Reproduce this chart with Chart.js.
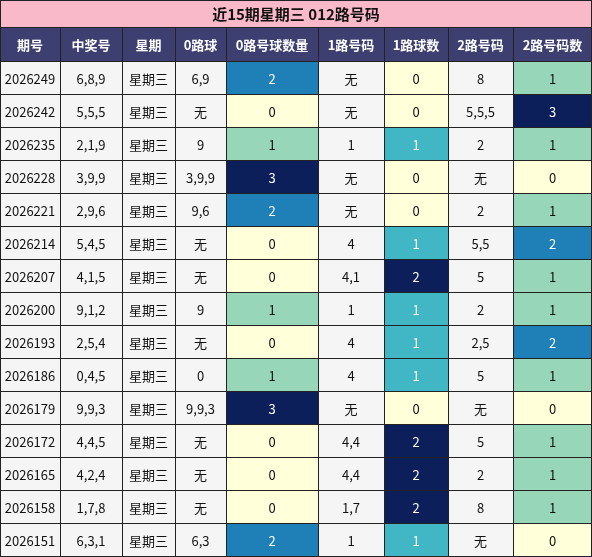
<!DOCTYPE html><html><head><meta charset="utf-8">
<script src="https://cdn.jsdelivr.net/npm/chart.js@4"></script>
<style>body{margin:0}#w{width:592px;height:557px}</style></head><body><div id="w"><canvas id="c"></canvas></div>
<script>
const title="近15期星期三 012路号码";
const headers=["期号","中奖号","星期","0路球","0路号球数量","1路号码","1路球数","2路号码","2路号码数"];
const issues=["2026249","2026242","2026235","2026228","2026221","2026214","2026207","2026200","2026193","2026186","2026179","2026172","2026165","2026158","2026151"];
const nums=["6,8,9","5,5,5","2,1,9","3,9,9","2,9,6","5,4,5","4,1,5","9,1,2","2,5,4","0,4,5","9,9,3","4,4,5","4,2,4","1,7,8","6,3,1"];
const week=Array(15).fill("星期三");
const r0=["6,9","无","9","3,9,9","9,6","无","无","9","无","0","9,9,3","无","无","无","6,3"];
const c0=[2,0,1,3,2,0,0,1,0,1,3,0,0,0,2];
const r1=["无","无","1","无","无","4","4,1","1","4","4","无","4,4","4,4","1,7","1"];
const c1=[0,0,1,0,0,1,2,1,1,1,0,2,2,2,1];
const r2=["8","5,5,5","2","无","2","5,5","5","2","2,5","5","无","5","2","8","无"];
const c2=[1,3,1,0,1,2,1,1,2,1,0,1,1,1,0];
const colEdges=[0,60,122,175,226,318,384,448,513,592];
const rowEdges=[0,27,62];for(let i=1;i<=15;i++)rowEdges.push(62+33*i);
const cols=[issues,nums,week,r0,c0,r1,c1,r2,c2];
const col4=["#ffffd9","#97d6b9","#1f80b8","#0c1f5b"];
const col3=["#ffffd9","#41b6c4","#0c1f5b"];
function cellColor(ci,v){if(ci===4||ci===8)return col4[v];if(ci===6)return col3[v];return "#f5f5f5";}
const plug={id:"tbl",afterDraw(ch){const x=ch.scales.x,y=ch.scales.y,g=ch.ctx;g.save();
const X=v=>x.getPixelForValue(v),Y=v=>y.getPixelForValue(v);
g.fillStyle="#f9b9c9";g.fillRect(X(0),Y(0),X(592)-X(0),Y(27)-Y(0));
g.fillStyle="#111";g.font="bold 15px 'Noto Sans CJK SC',sans-serif";g.textAlign="center";g.textBaseline="middle";
g.fillText(title,X(296),Y(14));
g.fillStyle="#3c3f6f";g.fillRect(X(0),Y(27),X(592)-X(0),Y(62)-Y(27));
g.fillStyle="#fff";g.font="bold 13px 'Noto Sans CJK SC',sans-serif";
headers.forEach((h,i)=>g.fillText(h,(X(colEdges[i])+X(colEdges[i+1]))/2,Y(45)));
g.font="13px 'Noto Sans CJK SC',sans-serif";
for(let r=0;r<15;r++)for(let c=0;c<9;c++){const v=cols[c][r];const x0=X(colEdges[c]),x1=X(colEdges[c+1]),y0=Y(rowEdges[r+2]),y1=Y(rowEdges[r+3]);
g.fillStyle=cellColor(c,v);g.fillRect(x0,y0,x1-x0,y1-y0);
let tc="#111";if(typeof v==="number"&&v>0&&!(c!==6&&v===1))tc="#fff";if(c===6&&v===1)tc="#fff";
g.fillStyle=tc;g.fillText(String(v),(x0+x1)/2,(y0+y1)/2+1);}
g.strokeStyle="#222";g.lineWidth=1;
for(let i=2;i<rowEdges.length;i++){g.beginPath();g.moveTo(X(0),Math.round(Y(rowEdges[i]))-0.5);g.lineTo(X(592),Math.round(Y(rowEdges[i]))-0.5);g.stroke();}
g.beginPath();g.moveTo(X(0),Y(27)+0.5);g.lineTo(X(592),Y(27)+0.5);g.stroke();
colEdges.forEach(e=>{const px=Math.min(Math.max(Math.round(X(e))+0.5,0.5),591.5);g.beginPath();g.moveTo(px,e===0||e===592?Y(0):Y(27));g.lineTo(px,Y(557));g.stroke();});
g.strokeRect(0.5,0.5,591,556);g.restore();}};
new Chart(document.getElementById("c"),{type:"scatter",data:{datasets:[{data:[],}]},
options:{responsive:true,maintainAspectRatio:false,animation:false,layout:{padding:0},
plugins:{legend:{display:false},tooltip:{enabled:false}},
scales:{x:{type:"linear",min:0,max:592,display:false},y:{type:"linear",min:0,max:557,reverse:true,display:false}}},plugins:[plug]});
</script></body></html>
